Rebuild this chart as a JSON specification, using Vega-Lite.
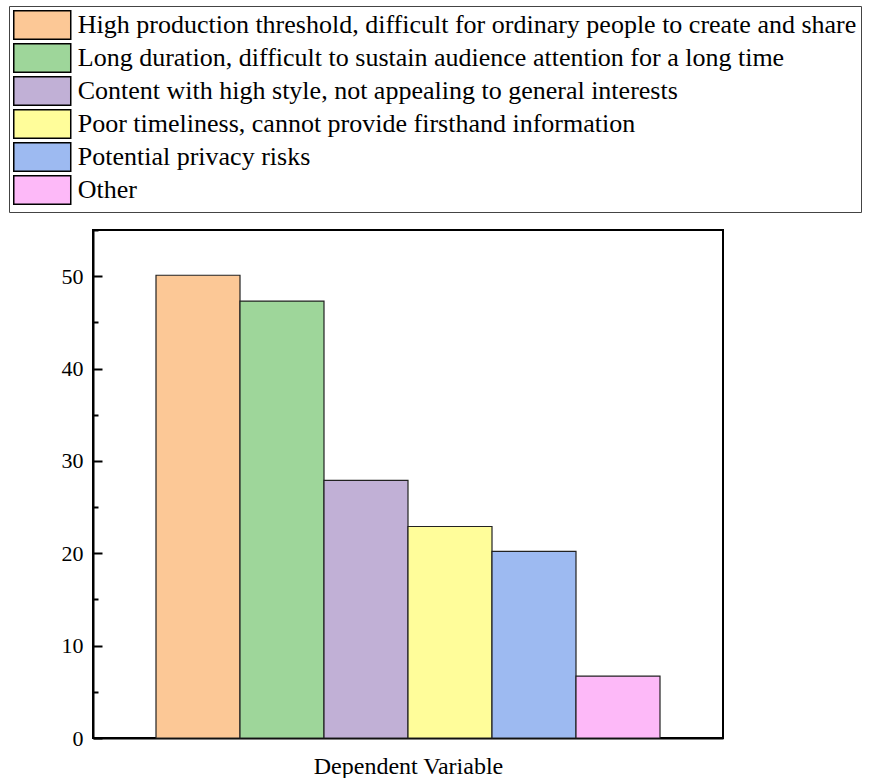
{
  "$schema": "https://vega.github.io/schema/vega-lite/v6.json",
  "width": 630,
  "height": 508,
  "padding": {"left": 8, "top": 5, "right": 0, "bottom": 0},
  "background": "white",
  "config": {
    "view": {"stroke": "black", "strokeWidth": 2},
    "font": "Liberation Serif"
  },
  "data": {
    "values": [
      {"group": "g", "category": "High production threshold, difficult for ordinary people to create and share", "value": 50.1},
      {"group": "g", "category": "Long duration, difficult to sustain audience attention for a long time", "value": 47.3},
      {"group": "g", "category": "Content with high style, not appealing to general interests", "value": 27.9},
      {"group": "g", "category": "Poor timeliness, cannot provide firsthand information", "value": 22.9},
      {"group": "g", "category": "Potential privacy risks", "value": 20.2},
      {"group": "g", "category": "Other", "value": 6.7}
    ]
  },
  "mark": {"type": "bar", "stroke": "#222", "strokeWidth": 1.2},
  "encoding": {
    "x": {
      "field": "group",
      "type": "nominal",
      "scale": {"paddingInner": 0, "paddingOuter": 0.125},
      "axis": {
        "title": "Dependent Variable",
        "titleFont": "Liberation Serif",
        "titleFontSize": 24,
        "titleFontWeight": "normal",
        "titleColor": "black",
        "titlePadding": 16,
        "labels": false,
        "ticks": false,
        "domainColor": "black",
        "domainWidth": 2
      }
    },
    "xOffset": {
      "field": "category",
      "type": "nominal",
      "sort": null,
      "scale": {"paddingInner": 0, "paddingOuter": 0}
    },
    "y": {
      "field": "value",
      "type": "quantitative",
      "scale": {"domain": [0, 55], "nice": false},
      "axis": {
        "title": null,
        "values": [0, 5, 10, 15, 20, 25, 30, 35, 40, 45, 50, 55],
        "labelExpr": "datum.value % 10 === 0 ? datum.label : ''",
        "labelFont": "Liberation Serif",
        "labelFontSize": 22,
        "labelColor": "black",
        "labelPadding": 19,
        "tickColor": "black",
        "tickWidth": 2,
        "tickSize": {"condition": {"test": "datum.value % 10 === 0", "value": -9}, "value": -5},
        "domainColor": "black",
        "domainWidth": 2,
        "grid": false
      }
    },
    "color": {
      "field": "category",
      "type": "nominal",
      "sort": null,
      "scale": {
        "range": ["#FCC896", "#9ED69A", "#C1B0D6", "#FFFD9A", "#9DBAF1", "#FDB9F8"]
      },
      "legend": {
        "title": null,
        "orient": "none",
        "legendX": -84,
        "legendY": -224,
        "direction": "vertical",
        "symbolType": "M-2,-1H2V1H-2Z",
        "symbolSize": 812,
        "symbolOffset": 14.25,
        "symbolStrokeColor": "black",
        "symbolStrokeWidth": 1.5,
        "symbolOpacity": 1,
        "labelFont": "Liberation Serif",
        "labelFontSize": 26,
        "labelColor": "black",
        "labelLimit": 1000,
        "labelOffset": 20.5,
        "rowPadding": -4.5,
        "strokeColor": "#444",
        "padding": 4,
        "fillColor": "white"
      }
    }
  }
}
